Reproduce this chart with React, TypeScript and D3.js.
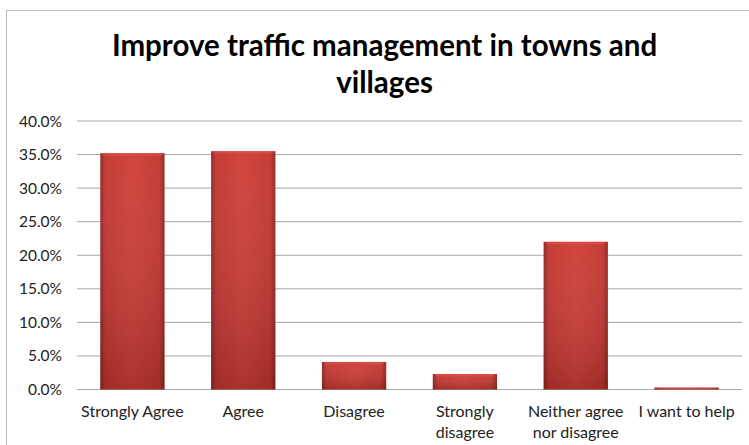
import React from "react";
import * as d3 from "d3";

const categories: string[][] = [
  ["Strongly Agree"],
  ["Agree"],
  ["Disagree"],
  ["Strongly", "disagree"],
  ["Neither agree", "nor disagree"],
  ["I want to help"],
];
const values: number[] = [0.352, 0.355, 0.041, 0.023, 0.22, 0.003];
const yTicks: number[] = [0, 0.05, 0.1, 0.15, 0.2, 0.25, 0.3, 0.35, 0.4];
const titleLines: string[] = ["Improve traffic management in towns and", "villages"];

const W = 749;
const H = 445;
const FONT = "Lato, 'Noto Sans', sans-serif";

export default function App() {
  const left = 77;
  const right = 742;
  const top = 121;
  const bottom = 389.5;
  const x = d3
    .scaleBand<number>()
    .domain(categories.map((_, i) => i))
    .range([left, right])
    .paddingInner(0.42)
    .paddingOuter(0.21);
  const y = d3.scaleLinear().domain([0, 0.4]).range([bottom, top]);
  const fmt = d3.format(".1%");

  return (
    <svg
      width={W}
      height={H}
      style={{ position: "absolute", left: 0, top: 0, background: "#fff" }}
    >
      <defs>
        <linearGradient id="barH" x1="0" x2="1" y1="0" y2="0">
          <stop offset="0" stopColor="#8e2420" />
          <stop offset="0.08" stopColor="#c2352f" />
          <stop offset="0.5" stopColor="#cf3d37" />
          <stop offset="0.92" stopColor="#c2352f" />
          <stop offset="1" stopColor="#8e2420" />
        </linearGradient>
        <linearGradient id="barV" x1="0" x2="0" y1="0" y2="1">
          <stop offset="0" stopColor="#fff" stopOpacity="0.04" />
          <stop offset="1" stopColor="#000" stopOpacity="0.18" />
        </linearGradient>
      </defs>
      <rect x={6.5} y={10.5} width={W} height={H} fill="#fff" stroke="#bdbdbd" strokeWidth={1} />
      {titleLines.map((t, i) => (
        <text
          key={i}
          x={(left + right) / 2 - 25}
          y={56 + i * 37}
          textAnchor="middle"
          fontFamily={FONT}
          fontWeight="bold"
          fontSize={29.5}
          fill="#000"
        >
          {t}
        </text>
      ))}
      {yTicks.map((t) => (
        <g key={t}>
          <line x1={left} x2={right} y1={y(t)} y2={y(t)} stroke="#a6a6a6" strokeWidth={1} />
          <text
            x={62}
            y={y(t) + 5.5}
            textAnchor="end"
            fontFamily={FONT}
            fontSize={15.5}
            fill="#222"
          >
            {fmt(t)}
          </text>
        </g>
      ))}
      {values.map((v, i) => {
        const bx = x(i)!;
        const bw = x.bandwidth();
        const by = y(v);
        const bh = bottom - by;
        return (
          <g key={i}>
            <rect x={bx} y={by} width={bw} height={bh} fill="url(#barH)" />
            <rect x={bx} y={by} width={bw} height={bh} fill="url(#barV)" />
            {bh > 4 && (
              <rect x={bx + 3} y={by} width={bw - 6} height={2.5} fill="#dd4c46" opacity={0.8} />
            )}
          </g>
        );
      })}
      {categories.map((lines, i) => (
        <text
          key={i}
          x={x(i)! + x.bandwidth() / 2}
          textAnchor="middle"
          fontFamily={FONT}
          fontSize={16}
          fill="#222"
        >
          {lines.map((l, j) => (
            <tspan key={j} x={x(i)! + x.bandwidth() / 2} y={417 + j * 21}>
              {l}
            </tspan>
          ))}
        </text>
      ))}
    </svg>
  );
}
